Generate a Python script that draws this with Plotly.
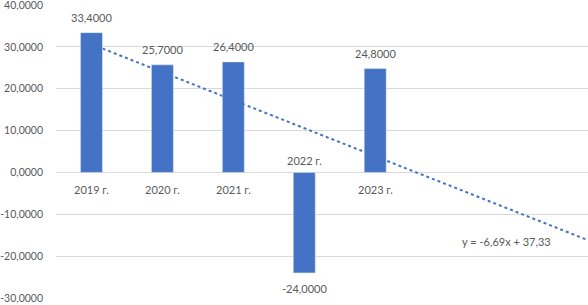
import numpy as np
import plotly.graph_objects as go

categories = ["2019 г.", "2020 г.", "2021 г.", "2022 г.", "2023 г."]
values = [33.4, 25.7, 26.4, -24.0, 24.8]
y_ticks = [40, 30, 20, 10, 0, -10, -20, -30]
forecast_forward = 3

def fmt(v, d):
    return f"{v:.{d}f}".replace(".", ",")

xs = np.arange(1, len(values) + 1)
slope, intercept = np.polyfit(xs, values, 1)
x_line = np.array([1, len(values) + forecast_forward])
y_line = slope * x_line + intercept

BLUE = "#4472C4"
GREY = "#595959"
FONT = "Lato, sans-serif"
FS = 11
XR = [0.5, len(values) + forecast_forward]

fig = go.Figure()
fig.add_trace(go.Scatter(x=x_line, y=y_line, mode="lines", xaxis="x",
                         line=dict(color=BLUE, width=2, dash="dot"),
                         hoverinfo="skip", showlegend=False))
fig.add_trace(go.Bar(x=xs, y=values, width=0.31, marker_color=BLUE, xaxis="x2",
                     showlegend=False))

for i, (c, v) in enumerate(zip(categories, values)):
    fig.add_annotation(x=xs[i], y=0, text=c, showarrow=False,
                       yshift=(12 if v < 0 else -17),
                       font=dict(color=GREY, size=FS, family=FONT))
    fig.add_annotation(x=xs[i], y=v, text=fmt(v, 4), showarrow=False,
                       yshift=(-16 if v < 0 else 15),
                       font=dict(color=GREY, size=FS, family=FONT))

eq = f"y = {fmt(slope, 2)}x + {fmt(intercept, 2)}"
fig.add_annotation(x=6.85, y=-16.6, text=eq, showarrow=False,
                   font=dict(color=GREY, size=FS, family=FONT))

fig.update_layout(
    width=588, height=305,
    margin=dict(l=56, r=0, t=5, b=7),
    plot_bgcolor="white", paper_bgcolor="white",
    bargap=0,
    xaxis=dict(range=XR, showticklabels=False,
               showgrid=False, zeroline=False, showline=False, fixedrange=True),
    xaxis2=dict(range=XR, overlaying="x", showticklabels=False,
                showgrid=False, zeroline=False, showline=False, fixedrange=True),
    yaxis=dict(range=[-30, 40], tickvals=y_ticks, automargin=False,
               ticktext=[fmt(t, 4) for t in y_ticks],
               showgrid=True, gridcolor="#D9D9D9", gridwidth=1,
               zeroline=True, zerolinecolor="#D9D9D9", zerolinewidth=1,
               showline=False, ticks="", ticklabelstandoff=12,
               ticklabeloverflow="allow", fixedrange=True,
               tickfont=dict(color=GREY, size=10.5, family=FONT)),
)

fig.write_html("out.html", config={"displayModeBar": False, "staticPlot": True},
               post_script="document.body.style.margin='0';")
